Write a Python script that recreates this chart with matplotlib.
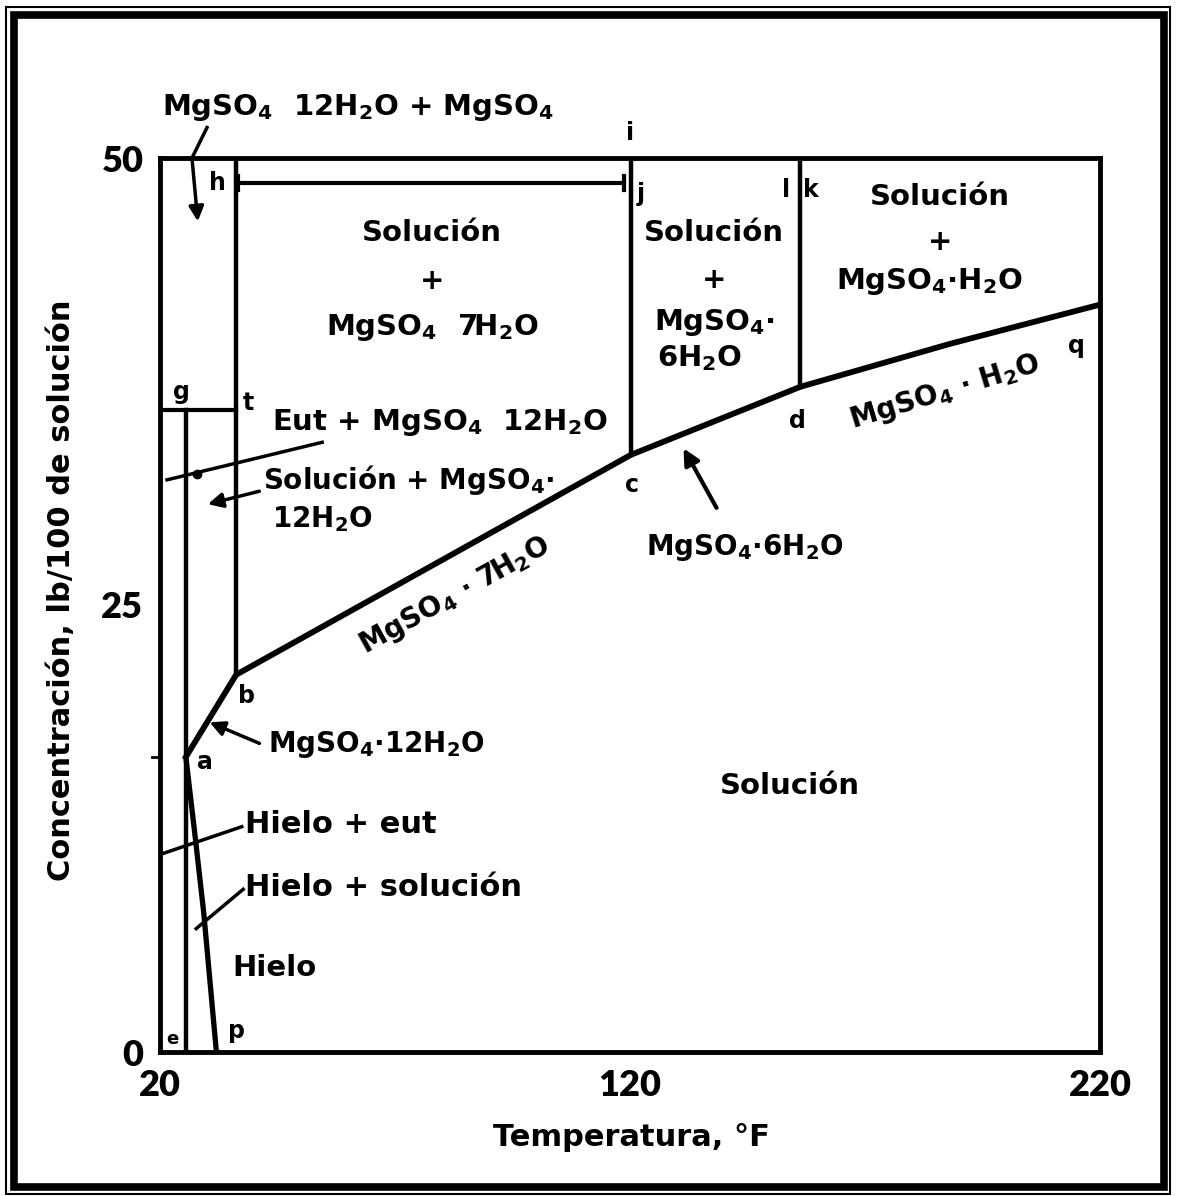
import matplotlib
matplotlib.use("Agg")
import matplotlib.pyplot as plt
from matplotlib.patches import Rectangle

# Phase boundaries, temperature (°F) vs concentration (lb MgSO4 / 100 lb solution)
ice_T = [25.5, 27.5, 29.3, 32.0]    # a -> p  (ice curve)
ice_C = [16.5, 12.0, 7.8, 0.0]
sol_T = [25.5, 36.2, 120.2, 156.2, 188.0, 220.0]   # a -> b -> c -> d -> q
sol_C = [16.5, 21.1, 33.4, 37.2, 39.6, 41.8]

# transition temperatures rising from the solubility curve up to the top
trans_T = [36.2, 120.2, 156.2]      # b-t, c-j, d-l
trans_C = [21.1, 33.4, 37.2]

eut_T = 25.5        # eutectic line (from 0 up to g)
gt_C = 35.9         # g - t level
hj_C = 48.6         # h - j level

xticks = [20, 120, 220]
yticks = [0, 25, 50]

plt.rcParams["font.family"] = ["DejaVu Sans"]
plt.rcParams["font.weight"] = "bold"
plt.rcParams["mathtext.fontset"] = "custom"
plt.rcParams["mathtext.rm"] = "DejaVu Sans:bold"
plt.rcParams["mathtext.it"] = "DejaVu Sans:bold"
plt.rcParams["mathtext.bf"] = "DejaVu Sans:bold"

W, H = 1178, 1196
fig = plt.figure(figsize=(W / 100, H / 100), dpi=100)
ax = fig.add_axes([160 / W, 1 - 1052 / H, 940 / W, 894 / H])

ax.set_xlim(20, 220)
ax.set_ylim(0, 50)
tick_font = dict(fontfamily="Lato", fontweight="heavy", fontsize=26)
ax.set_xticks(xticks, labels=[str(v) for v in xticks], **tick_font)
ax.set_yticks(yticks, labels=[str(v) for v in yticks], **tick_font)
ax.tick_params(length=0, pad=12)
for sp in ax.spines.values():
    sp.set_linewidth(3.5)

k = "black"
# curves
ax.plot(ice_T, ice_C, color=k, lw=3.8, solid_capstyle="round", solid_joinstyle="round")
ax.plot(sol_T, sol_C, color=k, lw=4.2, solid_joinstyle="round")
for t, c in zip(trans_T, trans_C):
    ax.plot([t, t], [c, 50], color=k, lw=3.2)
ax.plot([eut_T, eut_T], [0, gt_C], color=k, lw=3.2)
ax.plot([20, trans_T[0]], [gt_C, gt_C], color=k, lw=3)
# h - j line with end caps
ax.plot([trans_T[0], trans_T[1] - 1.5], [hj_C, hj_C], color=k, lw=3)
ax.plot([trans_T[1] - 1.5] * 2, [hj_C - 0.4, hj_C + 0.4], color=k, lw=3)
ax.plot([trans_T[0] + 0.5] * 2, [hj_C - 0.4, hj_C + 0.4], color=k, lw=3)
# little mark at the eutectic level outside the axis
ax.plot([18.2, 20], [16.5, 16.5], color=k, lw=2, clip_on=False)

# leaders and arrows
lk = dict(color=k, lw=2.5, clip_on=False)
ax.plot([30.0, 26.8], [51.7, 50.0], **lk)
ax.annotate("", xy=(28.1, 46.3), xytext=(26.8, 50.0),
            arrowprops=dict(arrowstyle="-|>", color=k, lw=2.5, mutation_scale=22))
ax.plot([21.5, 54.5], [32.0, 34.1], **lk)
ax.plot([27.9], [32.3], "o", color=k, ms=6)
ax.annotate("", xy=(29.6, 30.6), xytext=(41.7, 31.4),
            arrowprops=dict(arrowstyle="-|>", color=k, lw=2.5, mutation_scale=22))
ax.annotate("", xy=(30.0, 18.5), xytext=(41.7, 17.2),
            arrowprops=dict(arrowstyle="-|>", color=k, lw=2.5, mutation_scale=22))
ax.annotate("", xy=(131.1, 33.9), xytext=(138.7, 30.3),
            arrowprops=dict(arrowstyle="-|>", color=k, lw=3, mutation_scale=24))
ax.plot([37.4, 20.6], [12.6, 11.1], **lk)
ax.plot([37.7, 27.7], [9.1, 6.9], **lk)

big = 21
mid = 20
small = 17


def txt(x, y, s, size=mid, ha="center", rot=0):
    ax.text(x, y, s, fontsize=size, ha=ha, va="center", rotation=rot,
            rotation_mode="anchor", fontweight="bold", clip_on=False)


txt(62.1, 52.8, r"MgSO$_4$  12H$_2$O + MgSO$_4$", 21)
txt(120.0, 51.4, "i", small)
txt(32.3, 48.6, "h", small)
txt(122.3, 48.0, "j", small)
txt(153.2, 48.2, "l", small)
txt(158.5, 48.2, "k", small)

txt(77.9, 45.8, "Solución", big)
txt(77.9, 43.1, "+", big)
txt(77.9, 40.5, r"MgSO$_4$  7H$_2$O", big)

txt(137.9, 45.8, "Solución", big)
txt(137.9, 43.2, "+", big)
txt(137.9, 40.8, r"MgSO$_4$·", big)
txt(134.9, 38.8, r"6H$_2$O", big)

txt(186.0, 47.8, "Solución", big)
txt(186.0, 45.3, "+", big)
txt(183.8, 43.1, r"MgSO$_4$·H$_2$O", big)

txt(214.9, 39.5, "q", small)
txt(24.5, 36.9, "g", small)
txt(38.7, 36.3, "t", small)
txt(43.8, 35.2, r"Eut + MgSO$_4$  12H$_2$O", 21, ha="left")
txt(155.7, 35.3, "d", small)
txt(187.0, 36.9, r"MgSO$_4$ · H$_2$O", mid, rot=17)
txt(42.0, 32.0, r"Solución + MgSO$_4$·", mid, ha="left")
txt(43.8, 29.8, r"12H$_2$O", mid, ha="left")
txt(120.4, 31.7, "c", small)
txt(144.5, 28.2, r"MgSO$_4$·6H$_2$O", mid)
txt(82.8, 25.5, r"MgSO$_4$ · 7H$_2$O", mid, rot=29)
txt(38.3, 19.9, "b", small)
txt(43.0, 17.2, r"MgSO$_4$·12H$_2$O", mid, ha="left")
txt(29.6, 16.2, "a", small)
txt(154.0, 14.9, "Solución", big)
txt(38.1, 12.7, "Hielo + eut", 22, ha="left")
txt(38.1, 9.2, "Hielo + solución", 22, ha="left")
txt(35.3, 4.7, "Hielo", 21, ha="left")
txt(22.6, 0.7, "e", 13)
txt(36.2, 1.2, "p", small)

fig.text(631 / W, 1 - 1138 / H, "Temperatura, °F", fontsize=22,
         ha="center", va="center", fontweight="bold")
fig.text(62 / W, 1 - 590 / H, "Concentración, lb/100 de solución", fontsize=22,
         ha="center", va="center", rotation=90, fontweight="bold")

# double page border
fig.add_artist(Rectangle((13.5 / W, 1 - 1187 / H), 1150 / W, 1172 / H,
                         transform=fig.transFigure, fill=False, lw=5.5, ec=k))
fig.add_artist(Rectangle((6 / W, 1 - 1194 / H), 1164 / W, 1187 / H,
                         transform=fig.transFigure, fill=False, lw=1.5, ec=k))

fig.savefig("out.png", dpi=100)
